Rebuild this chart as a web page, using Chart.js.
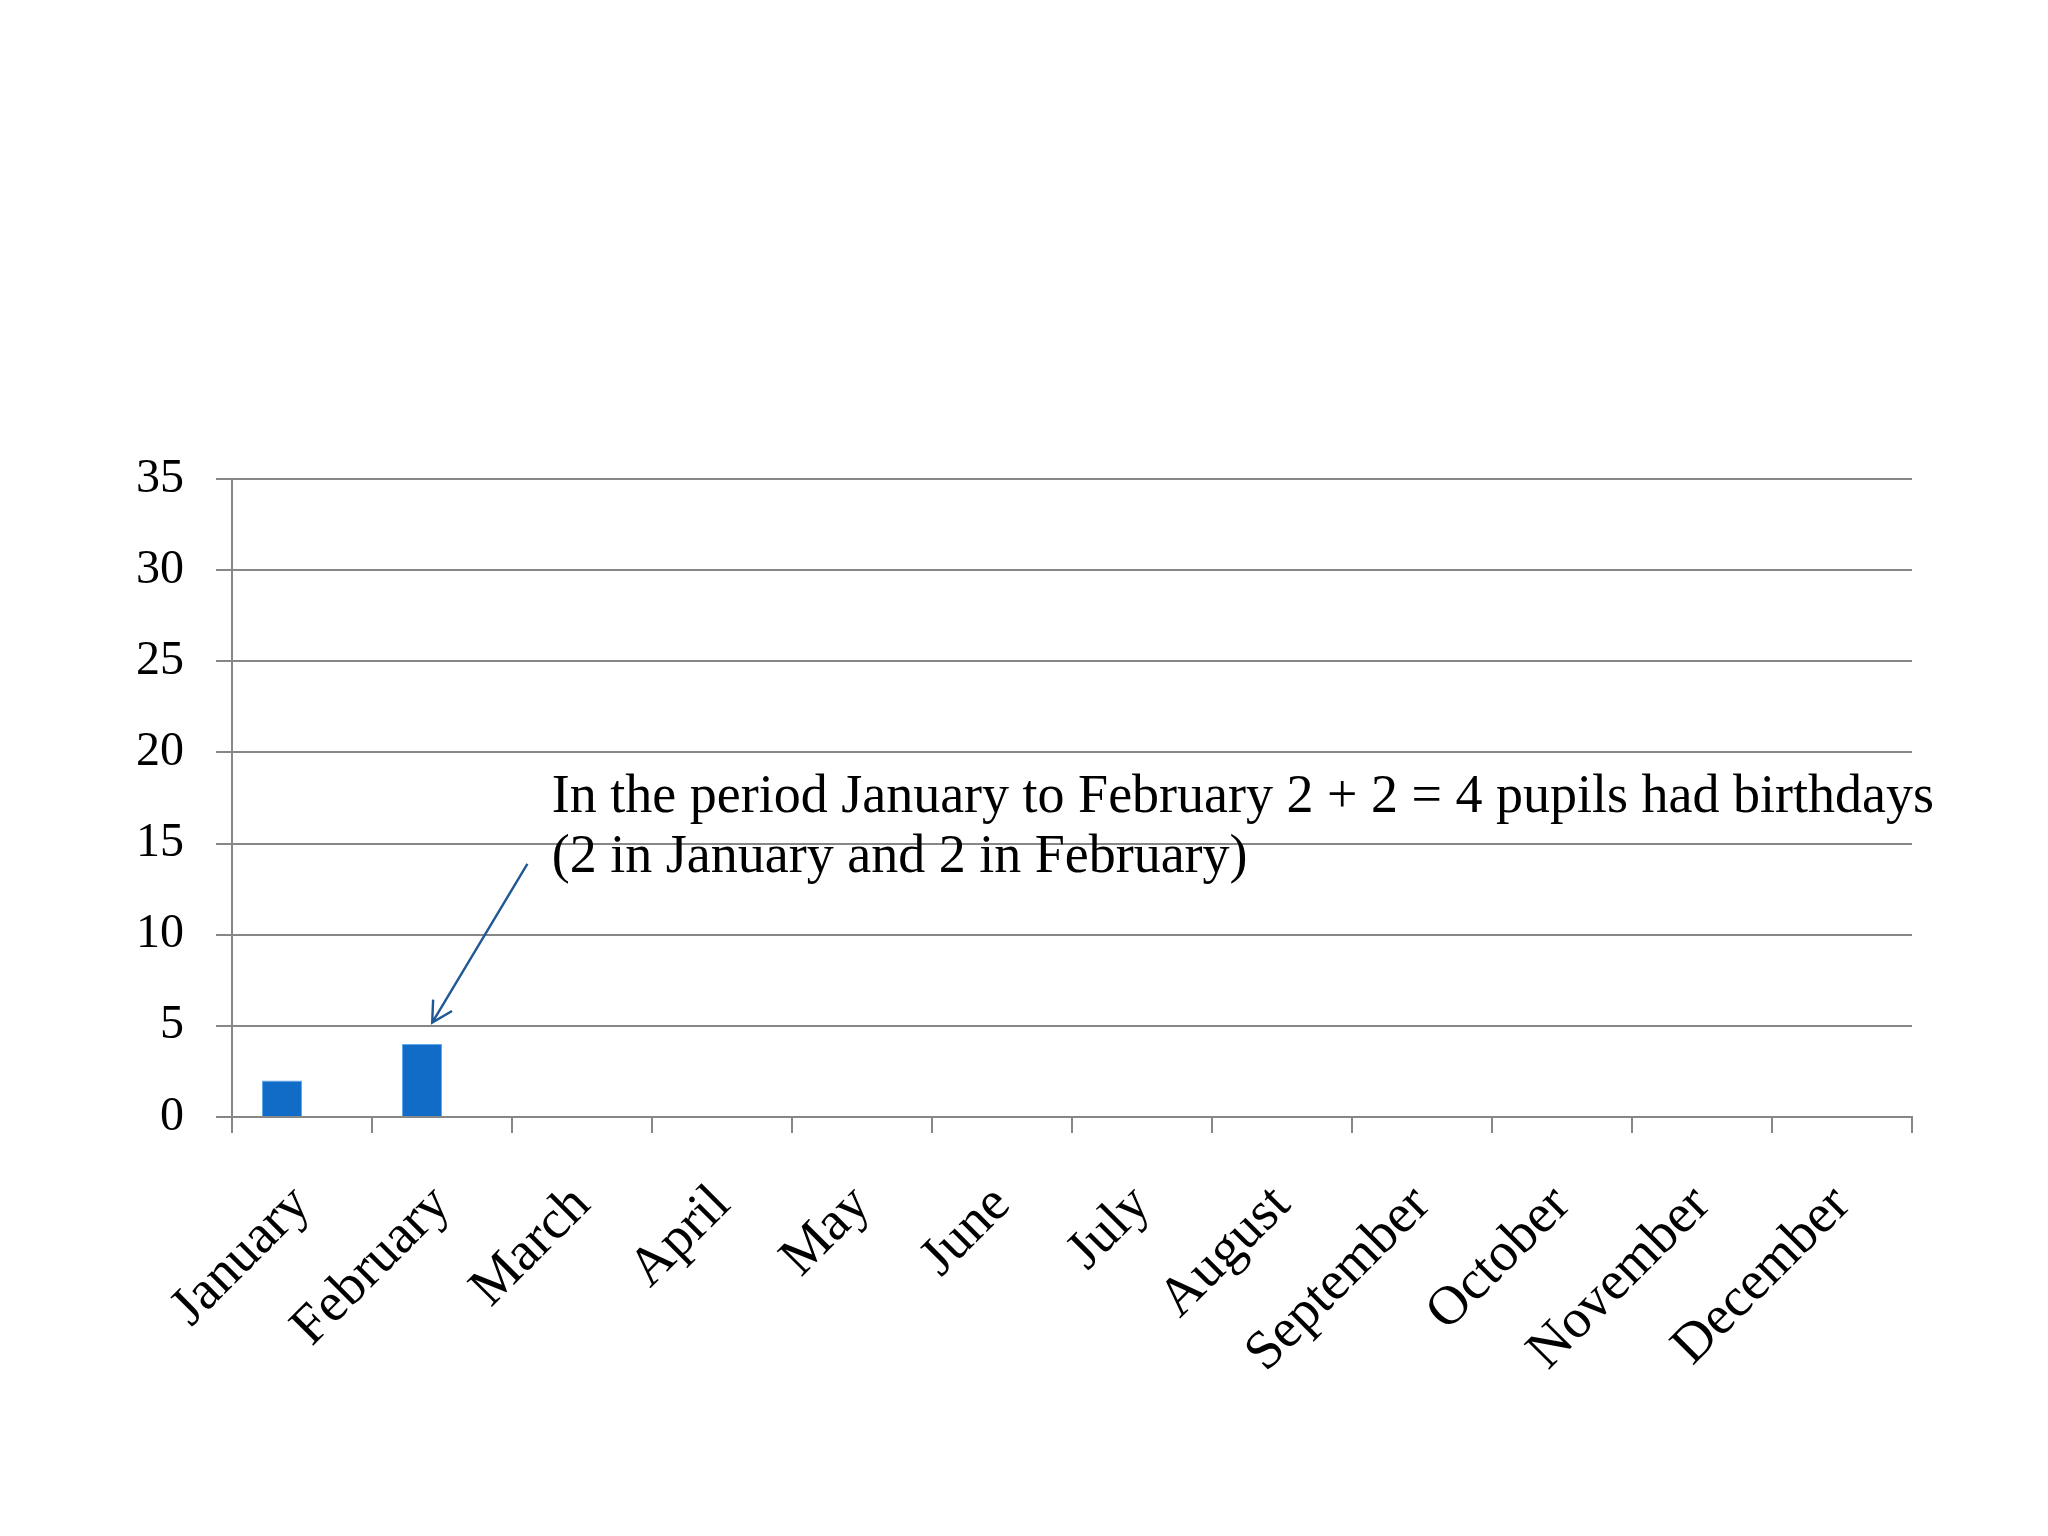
<!DOCTYPE html>
<html>
<head>
<meta charset="utf-8">
<title>Birthdays per month</title>
<script src="https://cdn.jsdelivr.net/npm/chart.js@4.4.1/dist/chart.umd.min.js"></script>
<style>
    html, body { margin: 0; padding: 0; background: #ffffff; }
    #wrap { width: 2048px; height: 1536px; position: relative; }
</style>
</head>
<body>
<div id="wrap"><canvas id="birthdayChart"></canvas></div>
<script>
// --- data ---
const months = ['January', 'February', 'March', 'April', 'May', 'June',
    'July', 'August', 'September', 'October', 'November', 'December'];
const birthdays = [2, 4, null, null, null, null, null, null, null, null, null, null];
const emptySeries = [0, 0, 0, 0, 0, 0, 0, 0, 0, 0, 0, 0];
const yTicks = [0, 5, 10, 15, 20, 25, 30, 35];

const noteLines = [
    'In the period January to February 2 + 2 = 4 pupils had birthdays',
    '(2 in January and 2 in February)'
];

const FONT = "'Liberation Serif', 'DejaVu Serif', serif";
const GRID = '#878787';

// Callout text + arrow, placed in data units (category index, value)
const calloutPlugin = {
    id: 'callout',
    afterDatasetsDraw(chart) {
        const { ctx, scales: { x, y } } = chart;
        ctx.save();

        // arrow from the note down to the February bar
        const x0 = x.getPixelForValue(1.61), y0 = y.getPixelForValue(13.88);
        const x1 = x.getPixelForValue(0.93), y1 = y.getPixelForValue(5.18);
        ctx.strokeStyle = '#1f5896';
        ctx.lineWidth = 2.4;
        ctx.beginPath();
        ctx.moveTo(x0, y0);
        ctx.lineTo(x1, y1);
        const ang = Math.atan2(y1 - y0, x1 - x0);
        const head = 23;
        ctx.moveTo(x1 - head * Math.cos(ang - 0.5), y1 - head * Math.sin(ang - 0.5));
        ctx.lineTo(x1, y1);
        ctx.lineTo(x1 - head * Math.cos(ang + 0.5), y1 - head * Math.sin(ang + 0.5));
        ctx.stroke();

        // the note itself
        ctx.fillStyle = '#000000';
        ctx.font = '54px ' + FONT;
        ctx.textAlign = 'left';
        ctx.textBaseline = 'alphabetic';
        const tx = x.getPixelForValue(1.784);
        ctx.fillText(noteLines[0], tx, y.getPixelForValue(16.75));
        ctx.fillText(noteLines[1], tx, y.getPixelForValue(13.46));
        ctx.restore();
    }
};

new Chart(document.getElementById('birthdayChart'), {
    type: 'bar',
    data: {
        labels: months,
        datasets: [{
            label: 'Birthdays',
            data: birthdays,
            backgroundColor: '#116cc7',
            borderColor: '#62aaf0',
            borderWidth: 1
        }, {
            label: 'Series 2',
            data: emptySeries,
            backgroundColor: 'rgba(0,0,0,0)',
            borderWidth: 0
        }]
    },
    options: {
        responsive: true,
        maintainAspectRatio: false,
        devicePixelRatio: 1,
        animation: false,
        layout: {
            padding: { top: 479, right: 136, bottom: 0, left: 0 }
        },
        datasets: {
            bar: {
                categoryPercentage: 80 / 140,
                barPercentage: 1.0
            }
        },
        scales: {
            x: {
                grid: {
                    offset: true,
                    drawOnChartArea: false,
                    drawTicks: true,
                    tickLength: 16,
                    color: GRID,
                    lineWidth: 2
                },
                border: { display: true, color: GRID, width: 2 },
                ticks: {
                    autoSkip: false,
                    minRotation: 45,
                    maxRotation: 45,
                    padding: 40,
                    color: '#000000',
                    font: { family: FONT, size: 55 }
                },
                afterFit(scale) { scale.height = 1536 - 1117; }
            },
            y: {
                min: yTicks[0],
                max: yTicks[yTicks.length - 1],
                afterBuildTicks(scale) {
                    scale.ticks = yTicks.map(v => ({ value: v }));
                },
                grid: {
                    color: GRID,
                    lineWidth: 2,
                    drawTicks: true,
                    tickLength: 16
                },
                border: { display: true, color: GRID, width: 2 },
                ticks: {
                    padding: 32,
                    color: '#000000',
                    font: { family: FONT, size: 48 }
                },
                afterFit(scale) { scale.width = 232; }
            }
        },
        plugins: {
            legend: { display: false },
            tooltip: { enabled: false },
            title: { display: false }
        }
    },
    plugins: [calloutPlugin]
});
</script>
</body>
</html>
